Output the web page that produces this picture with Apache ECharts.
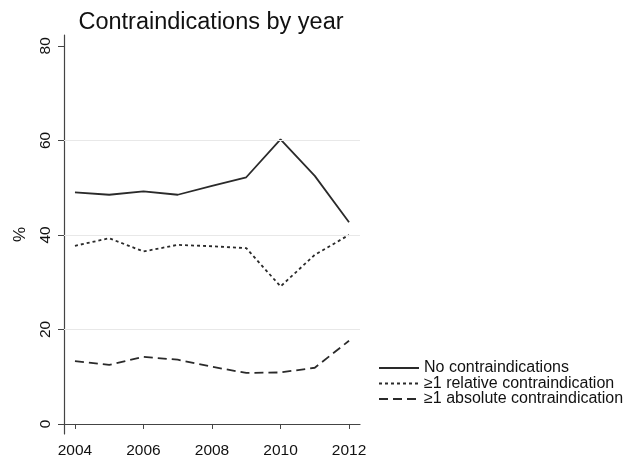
<!DOCTYPE html>
<html><head><meta charset="utf-8">
<script src="https://cdn.jsdelivr.net/npm/echarts@6/dist/echarts.min.js"></script>
<style>html,body{margin:0;padding:0;background:#fff}#c{width:637px;height:467px}</style>
</head><body><div id="c"></div>
<script>
const years = [2004,2005,2006,2007,2008,2009,2010,2011,2012];
const noContra = [49.0,48.5,49.2,48.5,50.4,52.2,60.2,52.5,42.7];
const relContra = [37.7,39.3,36.5,37.9,37.6,37.2,29.1,35.8,40.0];
const absContra = [13.3,12.5,14.2,13.6,12.1,10.8,10.9,11.9,17.6];
const xTicks = [2004,2006,2008,2010,2012];
const yTicks = [0,20,40,60,80];
const gridVals = [20,40,60];
const names = ['No contraindications','\u22651 relative contraindication','\u22651 absolute contraindication'];

const font = '"Liberation Sans", Arial, Helvetica, sans-serif';
const chart = echarts.init(document.getElementById('c'), null, {renderer:'canvas'});
const pair = arr => years.map((y,i)=>[y,arr[i]]);
const lineCol = '#2a2a2a';
chart.setOption({
  animation:false,
  title:{text:'Contraindications by year',left:206,top:6,textAlign:'center',
    textStyle:{fontFamily:font,fontSize:23.5,fontWeight:'normal',color:'#111'}},
  grid:{left:64,right:277,top:35,bottom:33},
  legend:{orient:'vertical',left:373,top:355,itemWidth:40,itemHeight:14,itemGap:-0.5,
    itemStyle:{color:'rgba(0,0,0,0)',borderWidth:0,opacity:0},
    textStyle:{fontFamily:font,fontSize:16,color:'#111'},
    data:names},
  xAxis:{type:'value',min:2003.68,max:2012.32,
    axisLine:{lineStyle:{color:'#444',width:1.2}},
    axisTick:{customValues:xTicks,length:5,lineStyle:{color:'#444'}},
    axisLabel:{customValues:xTicks,fontFamily:font,fontSize:15.5,color:'#111',margin:9,formatter:v=>String(v)},
    splitLine:{show:false}},
  yAxis:{type:'value',min:-2.12,max:82.3,name:'%',nameLocation:'middle',nameGap:35,nameRotate:90,
    nameTextStyle:{fontFamily:font,fontSize:17,color:'#111'},
    axisLine:{show:true,lineStyle:{color:'#444',width:1.2}},
    axisTick:{show:true,customValues:yTicks,length:6,lineStyle:{color:'#444'}},
    axisLabel:{customValues:yTicks,rotate:90,fontFamily:font,fontSize:15.5,color:'#111',margin:10,formatter:v=>String(v)},
    splitLine:{show:false}},
  series:[
    {name:names[0],type:'line',data:pair(noContra),symbol:'none',
      lineStyle:{color:lineCol,width:1.8,type:'solid'},itemStyle:{color:lineCol},
      markLine:{silent:true,symbol:'none',label:{show:false},
        lineStyle:{color:'#e8e8e8',width:1,type:'solid'},
        data:gridVals.map(v=>({yAxis:v}))}},
    {name:names[1],type:'line',data:pair(relContra),symbol:'none',
      lineStyle:{color:lineCol,width:1.8,type:[3,3]},itemStyle:{color:lineCol}},
    {name:names[2],type:'line',data:pair(absContra),symbol:'none',
      lineStyle:{color:lineCol,width:1.8,type:[9,5]},itemStyle:{color:lineCol}}
  ]
});
</script></body></html>
